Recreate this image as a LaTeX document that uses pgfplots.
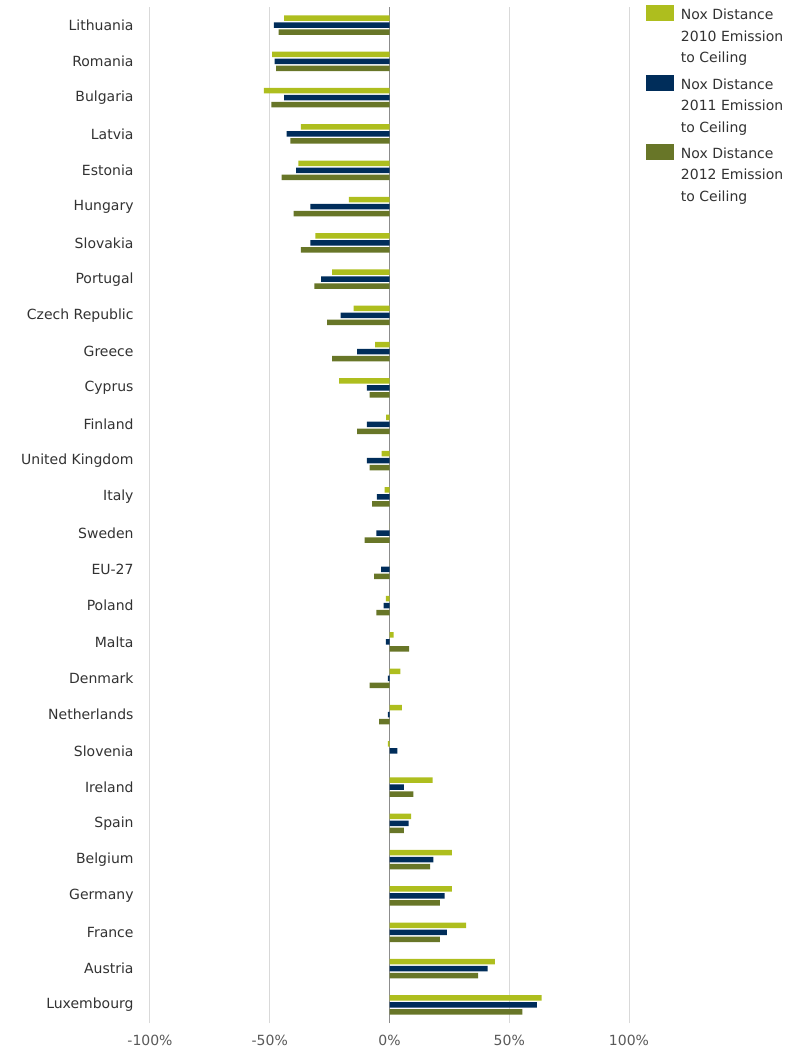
\documentclass[border=0pt]{standalone}
\usepackage{pgfplots}
\pgfplotsset{compat=1.18}
\usepackage{fontspec}
\setmainfont{DejaVu Sans}
\definecolor{cA}{RGB}{174,190,30}
\definecolor{cB}{RGB}{0,45,90}
\definecolor{cC}{RGB}{104,118,40}
\definecolor{txt}{RGB}{50,50,50}
\definecolor{grd}{RGB}{217,217,217}
\begin{document}
\begin{tikzpicture}
\begin{axis}[
  at={(0,0)}, anchor=south west,
  scale only axis, width=479pt, height=1016pt,
  xbar, bar width=5.5pt,
  xmin=-100, xmax=100, ymin=-0.5, ymax=27.5,
  xtick={-100,-50,50,100},
  xticklabels={-100\%,-50\%,50\%,100\%},
  extra x ticks={0}, extra x tick labels={0\%},
  extra x tick style={grid style={color=black!45, line width=1.6pt}},
  xmajorgrids, grid style={color=grd, line width=1pt},
  ytick={0,...,27},
  yticklabels={Luxembourg,Austria,France,Germany,Belgium,Spain,Ireland,Slovenia,Netherlands,Denmark,Malta,Poland,EU-27,Sweden,Italy,United Kingdom,Finland,Cyprus,Greece,Czech Republic,Portugal,Slovakia,Hungary,Estonia,Latvia,Bulgaria,Romania,Lithuania},
  axis line style={draw=none},
  tick style={draw=none},
  yticklabel style={font=\fontsize{14}{17}\selectfont, text=txt, inner sep=0pt, xshift=-12pt},
  xticklabel style={font=\fontsize{14}{17}\selectfont, text=black!65, inner sep=0pt, yshift=-12pt},
  legend style={draw=none, fill=none, at={(1.035,1)}, anchor=north west, yshift=2.5pt,
    font=\fontsize{14}{21.5}\selectfont, text=txt, inner sep=0pt, row sep=52.5pt, column sep=7pt,
    nodes={inner sep=0pt}},
  legend cell align=left,
  legend image code/.code={\fill[#1] (0pt,-8.5pt) rectangle (28pt,7.5pt);},
]
\addplot[fill=cA, draw=none, bar shift=7pt] coordinates {
(63.5,0) (44,1) (32,2) (26,3) (26,4) (9,5) (18,6) (-0.7,7) (5.2,8) (4.5,9) (1.7,10) (-1.5,11) (0,12) (0,13) (-2,14) (-3.3,15) (-1.4,16) (-21,17) (-6,18) (-15,19) (-24,20) (-31,21) (-17,22) (-38,23) (-37,24) (-52.5,25) (-49,26) (-44,27)
};
\addlegendentry{\begin{tabular}[t]{@{}l@{}}Nox Distance\\2010 Emission\\to Ceiling\end{tabular}}
\addplot[fill=cB, draw=none, bar shift=0pt] coordinates {
(61.5,0) (41,1) (24,2) (23,3) (18.3,4) (8,5) (6,6) (3.3,7) (-0.7,8) (-0.7,9) (-1.5,10) (-2.5,11) (-3.5,12) (-5.5,13) (-5.3,14) (-9.4,15) (-9.4,16) (-9.4,17) (-13.5,18) (-20.4,19) (-28.5,20) (-33,21) (-33,22) (-39,23) (-43,24) (-44,25) (-48,26) (-48.3,27)
};
\addlegendentry{\begin{tabular}[t]{@{}l@{}}Nox Distance\\2011 Emission\\to Ceiling\end{tabular}}
\addplot[fill=cC, draw=none, bar shift=-7pt] coordinates {
(55.5,0) (37,1) (21,2) (21,3) (17,4) (6,5) (10,6) (0,7) (-4.3,8) (-8.3,9) (8.2,10) (-5.5,11) (-6.4,12) (-10.4,13) (-7.3,14) (-8.3,15) (-13.5,16) (-8.3,17) (-24,18) (-26,19) (-31.4,20) (-37,21) (-40,22) (-45,23) (-41.4,24) (-49.3,25) (-47.3,26) (-46.3,27)
};
\addlegendentry{\begin{tabular}[t]{@{}l@{}}Nox Distance\\2012 Emission\\to Ceiling\end{tabular}}
\end{axis}
\pgfresetboundingbox
\path[use as bounding box] (-150pt,-23pt) rectangle (652pt,1023pt);
\end{tikzpicture}
\end{document}
